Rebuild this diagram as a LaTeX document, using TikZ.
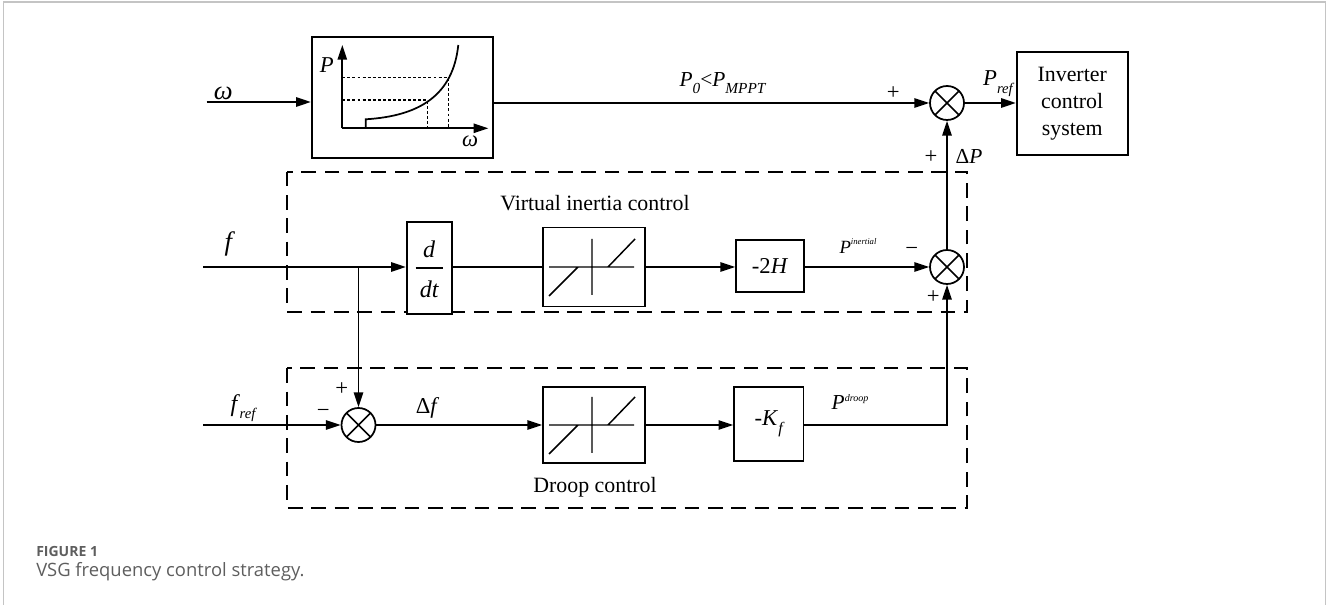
\documentclass[tikz,border=0pt]{standalone}
\usepackage{fontspec}
\setmainfont{Liberation Serif}
\newfontfamily\capfont{Open Sans}
\usetikzlibrary{arrows.meta}
\definecolor{capgray}{HTML}{5E5E5E}
\definecolor{framegray}{HTML}{C4C4C4}
\begin{document}
\begin{tikzpicture}[x=0.75pt, y=-0.75pt,
  wire/.style={line width=1.3pt},
  arr/.style={wire, -{Triangle[length=11pt,width=7pt]}},
  dotline/.style={line width=1.1pt, dash pattern=on 2.2pt off 1.6pt},
  dashbox/.style={line width=1.3pt, dash pattern=on 11pt off 6.5pt},
  blk/.style={draw, line width=1.3pt, inner sep=0pt, fill=white},
  sumnode/.style={circle, draw, line width=1.3pt, minimum size=25.5pt, inner sep=0pt,
    path picture={\draw[line width=1.3pt]
      (path picture bounding box.north west) -- (path picture bounding box.south east)
      (path picture bounding box.north east) -- (path picture bounding box.south west);}},
  lbl/.style={inner sep=0pt},
  body/.style={font=\fontsize{16.4}{20}\selectfont},
  sym/.style={inner sep=0pt, font=\fontsize{17}{17}\selectfont\itshape},
  sign/.style={inner sep=0pt, font=\fontsize{17}{17}\selectfont}
]
\useasboundingbox (0,0) rectangle (1327,605);

% page frame
\draw[framegray, line width=1.1pt] (3.5,605) -- (3.5,2) -- (1325.7,2) -- (1325.7,605);

% dashed groupings
\draw[dashbox] (287.3,171.7) rectangle (966.7,311.7);
\draw[dashbox] (287.3,368.3) rectangle (966.7,507.7);

% blocks
\node[blk, minimum width=136.2pt, minimum height=91pt] (curve) at (402.5,97.4) {};
\node[blk, minimum width=83.25pt, minimum height=77pt, align=center, body] (inv) at (1072.2,103.7) {Inverter\\control\\system};
\node[blk, minimum width=33.75pt, minimum height=69.5pt] (ddt) at (429.2,268) {};
\node[blk, minimum width=77pt, minimum height=59.25pt] (sat1) at (594,267) {};
\node[blk, minimum width=51pt, minimum height=39.5pt, font=\fontsize{17}{17}\selectfont] (gain1) at (770,266) {-2\textit{H}};
\node[blk, minimum width=76.5pt, minimum height=57.5pt] (sat2) at (594,425) {};
\node[blk, minimum width=52pt, minimum height=55pt, font=\fontsize{17}{17}\selectfont] (gain2) at (768.7,424) {-\textit{K}\raisebox{-0.35em}{\fontsize{12}{12}\selectfont\itshape f}};

% summing junctions
\node[sumnode] (sum1) at (947,103) {};
\node[sumnode] (sum2) at (947,267) {};
\node[sumnode] (sum3) at (358.5,425) {};

% P-omega characteristic inside the top block
\draw[arr] (342.3,128.3) -- (342.3,45);
\draw[arr] (342.3,128.3) -- (488.3,128.3);
\draw[wire] (365.7,128.3) -- (365.7,119.3) .. controls (420,116) and (453,95) .. (458.3,45);
\draw[dotline] (342.3,77.7) -| (448.3,128.3);
\draw[dotline] (342.3,100) -| (427.7,128.3);
\node[sym] at (326.7,65) {P};
\node[sym] at (470,141.7) {ω};

% d/dt fraction
\node[lbl, font=\fontsize{18}{18}\selectfont\itshape] (dnum) at (429.2,249) {d};
\node[lbl, font=\fontsize{18}{18}\selectfont\itshape] (dden) at (429.2,289) {dt};
\draw[line width=1.1pt] (415.5,268) -- (443,268);

% dead-band characteristics
\foreach \s in {sat1,sat2}{
  \draw[line width=1.1pt, shift={(\s)}]
    (-45,0) -- (40,0)
    (-2,-28) -- (-2,28)
    (-45,29) -- (-16,0)
    (14,0) -- (41,-28);
}

% signal inputs
\coordinate (win) at (206.7,102);
\coordinate (fin) at (203.3,267);
\coordinate (frefin) at (203.3,425);
\coordinate (tap) at (sum3 |- fin);

% connectors
\draw[arr] (win) -- (win -| curve.west);
\draw[arr] (curve.east |- sum1) -- (sum1.west);
\draw[arr] (sum1.east) -- (inv.west |- sum1);
\draw[arr] (sum2.north) -- (sum1.south);
\draw[arr] (fin) -- (fin -| ddt.west);
\draw[arr] (tap) -- (sum3.north);
\draw[wire] (ddt.east |- sat1) -- (sat1.west);
\draw[arr] (sat1.east) -- (gain1.west |- sat1);
\draw[arr] (gain1.east |- sum2) -- (sum2.west);
\draw[arr] (frefin) -- (sum3.west);
\draw[arr] (sum3.east) -- (sat2.west);
\draw[arr] (sat2.east) -- (gain2.west |- sat2);
\draw[arr] (gain2.east |- sat2) -| (sum2.south);

% signal labels
\node[lbl, font=\fontsize{20}{20}\selectfont\itshape] at (223.3,93.3) {ω};
\node[lbl, font=\fontsize{20}{20}\selectfont\itshape] at (228.3,244) {f};
\node[lbl, font=\fontsize{18}{18}\selectfont\itshape] at (243,408) {f\raisebox{-0.3em}{\fontsize{11}{11}\selectfont\,ref}};
\node[lbl, font=\fontsize{17}{17}\selectfont] at (427.5,408) {Δ\textit{f}};
\node[lbl, font=\fontsize{16}{16}\selectfont] at (722.5,83) {\textit{P}\raisebox{-0.3em}{\fontsize{11.5}{11.5}\selectfont\itshape 0}<\textit{P}\raisebox{-0.3em}{\fontsize{11.5}{11.5}\selectfont\itshape MPPT}};
\node[lbl, font=\fontsize{17}{17}\selectfont\itshape] at (998,84) {P\raisebox{-0.35em}{\fontsize{11}{11}\selectfont ref}};
\node[lbl, font=\fontsize{16}{16}\selectfont] at (969,156) {Δ\textit{P}};
\node[lbl, font=\fontsize{14}{14}\selectfont\itshape] at (858,246) {P\raisebox{0.45em}{\fontsize{6.5}{6.5}\selectfont inertial}};
\node[lbl, font=\fontsize{16}{16}\selectfont\itshape] at (850,402) {P\raisebox{0.4em}{\fontsize{7.5}{7.5}\selectfont droop}};

% signs at the junctions
\node[sign] at (893.3,93.3) {+};
\node[sign] at (931,156.7) {+};
\node[sign] at (911.7,251.7) {−};
\node[sign] at (933.3,296.7) {+};
\node[sign] at (323.3,413.3) {−};
\node[sign] at (341.7,389.3) {+};

% group titles
\node[lbl, body] at (595,203) {Virtual inertia control};
\node[lbl, body] at (595,487) {Droop control};

% caption
\node[lbl, anchor=base west, text=capgray, font=\capfont\bfseries\fontsize{10.5}{12}\selectfont] at (36,556) {FIGURE 1};
\node[lbl, anchor=base west, text=capgray, font=\capfont\fontsize{13.8}{16}\selectfont] at (36,576) {VSG frequency control strategy.};
\end{tikzpicture}
\end{document}
